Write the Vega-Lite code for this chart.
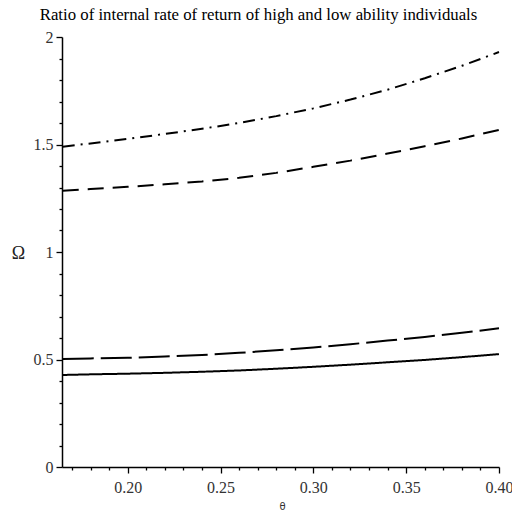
{
  "$schema": "https://vega.github.io/schema/vega-lite/v6.json",
  "width": 437,
  "height": 430,
  "autosize": {"type": "none"},
  "padding": {"left": 62, "top": 37, "right": 13, "bottom": 44},
  "background": "white",
  "config": {"view": {"stroke": null}, "font": "Liberation Serif"},
  "title": {"text": "Ratio of internal rate of return of high and low ability individuals", "font": "Liberation Serif", "fontSize": 16.8, "fontWeight": "normal", "color": "black", "anchor": "middle", "dx": -22, "offset": 5},
  "data": {"values": [
    {"s": "a", "theta": 0.165, "omega": 1.490}, {"s": "a", "theta": 0.18, "omega": 1.505}, {"s": "a", "theta": 0.20, "omega": 1.526}, {"s": "a", "theta": 0.22, "omega": 1.549}, {"s": "a", "theta": 0.24, "omega": 1.573}, {"s": "a", "theta": 0.26, "omega": 1.600}, {"s": "a", "theta": 0.28, "omega": 1.632}, {"s": "a", "theta": 0.30, "omega": 1.668}, {"s": "a", "theta": 0.32, "omega": 1.709}, {"s": "a", "theta": 0.34, "omega": 1.755}, {"s": "a", "theta": 0.36, "omega": 1.808}, {"s": "a", "theta": 0.38, "omega": 1.866}, {"s": "a", "theta": 0.40, "omega": 1.930},
    {"s": "b", "theta": 0.165, "omega": 1.285}, {"s": "b", "theta": 0.18, "omega": 1.293}, {"s": "b", "theta": 0.20, "omega": 1.303}, {"s": "b", "theta": 0.22, "omega": 1.315}, {"s": "b", "theta": 0.24, "omega": 1.328}, {"s": "b", "theta": 0.26, "omega": 1.345}, {"s": "b", "theta": 0.28, "omega": 1.368}, {"s": "b", "theta": 0.30, "omega": 1.396}, {"s": "b", "theta": 0.32, "omega": 1.425}, {"s": "b", "theta": 0.34, "omega": 1.458}, {"s": "b", "theta": 0.36, "omega": 1.492}, {"s": "b", "theta": 0.38, "omega": 1.528}, {"s": "b", "theta": 0.40, "omega": 1.568},
    {"s": "c", "theta": 0.165, "omega": 0.502}, {"s": "c", "theta": 0.18, "omega": 0.505}, {"s": "c", "theta": 0.20, "omega": 0.508}, {"s": "c", "theta": 0.22, "omega": 0.514}, {"s": "c", "theta": 0.24, "omega": 0.521}, {"s": "c", "theta": 0.26, "omega": 0.531}, {"s": "c", "theta": 0.28, "omega": 0.543}, {"s": "c", "theta": 0.30, "omega": 0.556}, {"s": "c", "theta": 0.32, "omega": 0.571}, {"s": "c", "theta": 0.34, "omega": 0.588}, {"s": "c", "theta": 0.36, "omega": 0.605}, {"s": "c", "theta": 0.38, "omega": 0.624}, {"s": "c", "theta": 0.40, "omega": 0.645},
    {"s": "d", "theta": 0.165, "omega": 0.428}, {"s": "d", "theta": 0.18, "omega": 0.431}, {"s": "d", "theta": 0.20, "omega": 0.434}, {"s": "d", "theta": 0.22, "omega": 0.438}, {"s": "d", "theta": 0.24, "omega": 0.443}, {"s": "d", "theta": 0.26, "omega": 0.449}, {"s": "d", "theta": 0.28, "omega": 0.457}, {"s": "d", "theta": 0.30, "omega": 0.466}, {"s": "d", "theta": 0.32, "omega": 0.476}, {"s": "d", "theta": 0.34, "omega": 0.487}, {"s": "d", "theta": 0.36, "omega": 0.498}, {"s": "d", "theta": 0.38, "omega": 0.511}, {"s": "d", "theta": 0.40, "omega": 0.525}
  ]},
  "mark": {"type": "line", "color": "black", "strokeWidth": 2},
  "encoding": {
    "x": {
      "field": "theta", "type": "quantitative",
      "scale": {"domain": [0.1646, 0.4], "nice": false, "zero": false},
      "axis": {
        "values": [0.17, 0.18, 0.19, 0.20, 0.21, 0.22, 0.23, 0.24, 0.25, 0.26, 0.27, 0.28, 0.29, 0.30, 0.31, 0.32, 0.33, 0.34, 0.35, 0.36, 0.37, 0.38, 0.39, 0.40],
        "labelExpr": "abs(round(datum.value*20) - datum.value*20) < 0.001 ? format(datum.value, '.2f') : ''",
        "tickSize": {"condition": {"test": "abs(round(datum.value*20) - datum.value*20) < 0.001", "value": 6}, "value": 3},
        "tickColor": "black", "tickWidth": 1.3, "domainColor": "black", "domainWidth": 1.5,
        "grid": false, "labelFont": "Liberation Serif", "labelFontSize": 16, "labelColor": "#333", "labelPadding": 6, "labelFlush": false,
        "title": "θ", "titleFont": "DejaVu Sans", "titleFontSize": 10, "titleFontWeight": "normal", "titleColor": "#333", "titleX": 220, "titleY": 42, "titleBaseline": "alphabetic"
      }
    },
    "y": {
      "field": "omega", "type": "quantitative",
      "scale": {"domain": [0, 2], "nice": false},
      "axis": {
        "values": [0, 0.1, 0.2, 0.3, 0.4, 0.5, 0.6, 0.7, 0.8, 0.9, 1, 1.1, 1.2, 1.3, 1.4, 1.5, 1.6, 1.7, 1.8, 1.9, 2],
        "labelExpr": "abs(round(datum.value*2) - datum.value*2) < 0.001 ? format(datum.value, '~g') : ''",
        "tickSize": {"condition": {"test": "abs(round(datum.value*2) - datum.value*2) < 0.001", "value": 6}, "value": 3},
        "tickColor": "black", "tickWidth": 1.3, "domainColor": "black", "domainWidth": 1.5,
        "grid": false, "labelFont": "Liberation Serif", "labelFontSize": 16, "labelColor": "#333", "labelPadding": 3, "labelFlush": false,
        "title": "Ω", "titleFont": "Liberation Serif", "titleFontSize": 18, "titleFontWeight": "normal", "titleColor": "#222", "titleAngle": 0, "titleX": -44, "titleY": 216, "titleAlign": "center", "titleBaseline": "middle"
      }
    },
    "strokeDash": {
      "field": "s", "type": "nominal", "legend": null,
      "scale": {"domain": ["a", "b", "c", "d"], "range": [[12, 6, 2, 6], [16, 9], [31, 7], [1, 0]]}
    }
  }
}
